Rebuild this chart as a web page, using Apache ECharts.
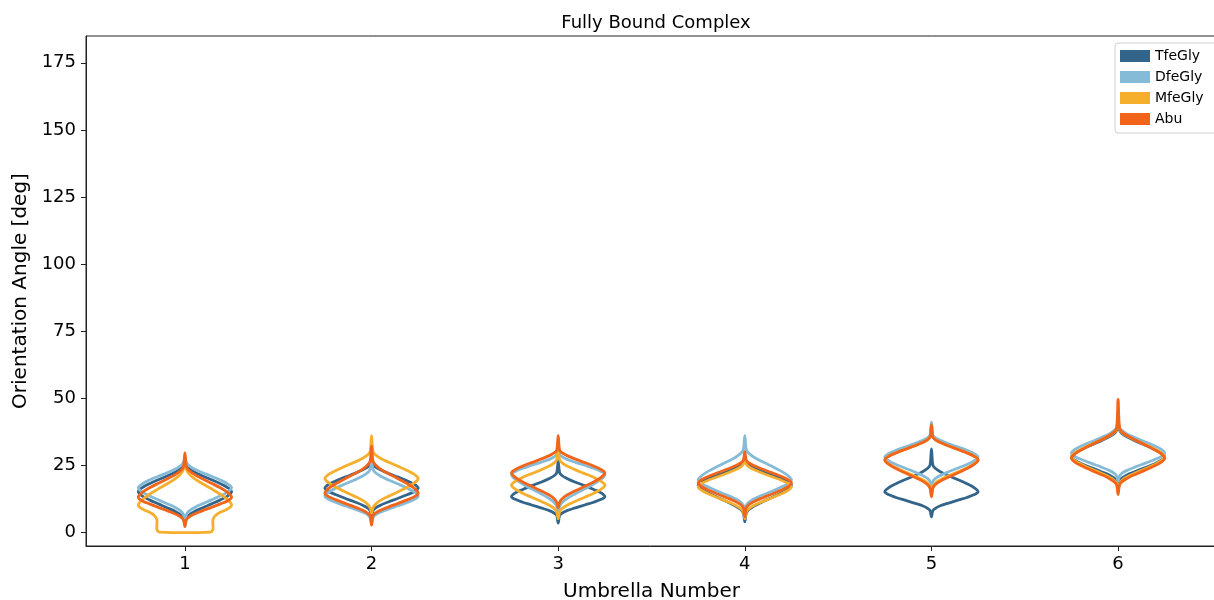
<!DOCTYPE html>
<html>
<head>
<meta charset="utf-8">
<script src="https://cdn.jsdelivr.net/npm/echarts@6/dist/echarts.min.js"></script>
<style>
  html, body { margin: 0; padding: 0; background: #fff; }
  #chart { width: 1214px; height: 600px; }
</style>
</head>
<body>
<div id="chart"></div>
<script>
// umbrella positions on the x axis
const umbrellas = [1, 2, 3, 4, 5, 6];
const compounds = ['TfeGly', 'DfeGly', 'MfeGly', 'Abu'];
const yTicks = [0, 25, 50, 75, 100, 125, 150, 175];

// violin outlines, one per umbrella: [angle (deg), relative density 0..1]
const tfeGly = [
  [[3,0],[5,.03],[6.2,.08],[7.5,.19],[9,.37],[10.5,.57],[12,.76],[13.5,.92],[15,1],[16.5,.92],[18,.76],[19.5,.57],[21,.37],[22.5,.19],[23.8,.08],[25,.03],[27,0]],
  [[5.5,0],[7.9,.03],[8.9,.08],[10,.19],[11.3,.37],[12.6,.57],[13.9,.76],[15.1,.92],[16.4,1],[17.8,.92],[19.1,.76],[20.5,.57],[21.8,.37],[23.2,.19],[24.3,.08],[25.4,.03],[28,0]],
  [[3.3,0],[6.2,.03],[7,.08],[8,.19],[9,.37],[10.1,.57],[11.1,.76],[12.2,.92],[13.2,1],[14.6,.92],[15.9,.76],[17.3,.57],[18.6,.37],[20,.19],[21.1,.08],[22.2,.03],[26.5,0]],
  [[3.8,0],[7,.03],[8.3,.08],[9.6,.19],[11.2,.37],[12.8,.57],[14.4,.76],[15.9,.92],[17.5,1],[18.8,.92],[20.1,.76],[21.3,.57],[22.6,.37],[23.9,.19],[25,.08],[26,.03],[27,0]],
  [[5.7,0],[8,.03],[8.8,.08],[9.8,.19],[10.8,.37],[11.9,.57],[12.9,.76],[14,.92],[15,1],[16.5,.92],[18,.76],[19.5,.57],[21,.37],[22.5,.19],[23.8,.08],[25,.03],[31,0]],
  [[18,0],[19,.03],[20.1,.08],[21.3,.19],[22.6,.37],[24,.57],[25.3,.76],[26.7,.92],[28,1],[29.5,.92],[31,.76],[32.5,.57],[34,.37],[35.5,.19],[36.8,.08],[38,.03],[40,0]]
];
const dfeGly = [
  [[4,0],[6.5,.03],[7.7,.08],[9,.19],[10.5,.37],[12,.57],[13.5,.76],[15,.92],[16.5,1],[17.9,.92],[19.4,.76],[20.8,.57],[22.2,.37],[23.6,.19],[24.9,.08],[26,.03],[28,0]],
  [[3.5,0],[5.4,.03],[6.4,.08],[7.4,.19],[8.6,.37],[9.8,.57],[11,.76],[12.2,.92],[13.4,1],[14.9,.92],[16.4,.76],[17.9,.57],[19.4,.37],[20.9,.19],[22.2,.08],[23.4,.03],[26,0]],
  [[7,0],[9.5,.03],[10.9,.08],[12.5,.19],[14.3,.37],[16.1,.57],[17.9,.76],[19.7,.92],[21.5,1],[22.6,.92],[23.8,.76],[24.9,.57],[26,.37],[27.1,.19],[28.1,.08],[29,.03],[32,0]],
  [[7.6,0],[9.9,.03],[11,.08],[12.3,.19],[13.7,.37],[15.1,.57],[16.6,.76],[18,.92],[19.4,1],[21.1,.92],[22.9,.76],[24.6,.57],[26.3,.37],[28,.19],[29.5,.08],[30.9,.03],[36,0]],
  [[17,0],[18.8,.03],[19.9,.08],[21.1,.19],[22.5,.37],[23.9,.57],[25.2,.76],[26.6,.92],[28,1],[29.2,.92],[30.5,.76],[31.7,.57],[32.9,.37],[34.2,.19],[35.2,.08],[36.2,.03],[41,0]],
  [[19,0],[20.9,.03],[21.9,.08],[23,.19],[24.3,.37],[25.6,.57],[26.9,.76],[28.1,.92],[29.4,1],[30.9,.92],[32.3,.76],[33.7,.57],[35.2,.37],[36.6,.19],[37.9,.08],[39,.03],[42,0]]
];
const mfeGly = [
  [[0,.55],[1,.6],[2.6,.6],[4.5,.6],[5.7,.63],[7,.72],[8.5,.9],[10,1],[12,.92],[14.1,.76],[16.1,.57],[18.1,.37],[20.1,.19],[21.9,.08],[23.5,.03],[28,0]],
  [[7,0],[9,.03],[10.3,.08],[11.8,.19],[13.4,.37],[15,.57],[16.7,.76],[18.4,.92],[20,1],[21.5,.92],[23,.76],[24.5,.57],[26,.37],[27.5,.19],[28.8,.08],[30,.03],[36,0]],
  [[5,0],[7.5,.03],[8.7,.08],[10,.19],[11.5,.37],[13,.57],[14.5,.76],[16,.92],[17.5,1],[18.9,.92],[20.4,.76],[21.8,.57],[23.2,.37],[24.6,.19],[25.9,.08],[27,.03],[31,0]],
  [[5,0],[7.5,.03],[8.6,.08],[9.9,.19],[11.3,.37],[12.7,.57],[14.1,.76],[15.5,.92],[16.9,1],[18.2,.92],[19.5,.76],[20.7,.57],[22,.37],[23.3,.19],[24.4,.08],[25.4,.03],[27,0]],
  [[14,0],[17,.03],[18.2,.08],[19.5,.19],[21,.37],[22.5,.57],[24,.76],[25.5,.92],[27,1],[28.3,.92],[29.6,.76],[30.8,.57],[32.1,.37],[33.4,.19],[34.5,.08],[35.5,.03],[39,0]],
  [[16,0],[18,.03],[19.2,.08],[20.5,.19],[22,.37],[23.5,.57],[25,.76],[26.5,.92],[28,1],[29.6,.92],[31.2,.76],[32.7,.57],[34.3,.37],[35.9,.19],[37.2,.08],[38.5,.03],[43,0]]
];
const abu = [
  [[2,0],[4.5,.03],[5.5,.08],[6.6,.19],[7.9,.37],[9.2,.57],[10.5,.76],[11.7,.92],[13,1],[14.7,.92],[16.5,.76],[18.2,.57],[19.9,.37],[21.6,.19],[23.1,.08],[24.5,.03],[29.5,0]],
  [[2.6,0],[6,.03],[7,.08],[8.1,.19],[9.4,.37],[10.7,.57],[12,.76],[13.2,.92],[14.5,1],[16.3,.92],[18.1,.76],[19.9,.57],[21.7,.37],[23.5,.19],[25.1,.08],[26.5,.03],[32,0]],
  [[9,0],[11,.03],[12.3,.08],[13.8,.19],[15.4,.37],[17.1,.57],[18.7,.76],[20.4,.92],[22,1],[23.3,.92],[24.6,.76],[25.9,.57],[27.2,.37],[28.5,.19],[29.6,.08],[30.6,.03],[36,0]],
  [[5.7,0],[9,.03],[10.1,.08],[11.3,.19],[12.7,.37],[14.1,.57],[15.5,.76],[16.9,.92],[18.3,1],[19.6,.92],[20.9,.76],[22.2,.57],[23.5,.37],[24.8,.19],[25.9,.08],[26.9,.03],[30,0]],
  [[13.2,0],[16.3,.03],[17.6,.08],[19,.19],[20.5,.37],[22.1,.57],[23.7,.76],[25.3,.92],[26.9,1],[28.2,.92],[29.5,.76],[30.8,.57],[32.1,.37],[33.4,.19],[34.5,.08],[35.5,.03],[40,0]],
  [[14,0],[17.5,.03],[18.7,.08],[20,.19],[21.5,.37],[23,.57],[24.5,.76],[26,.92],[27.5,1],[29.2,.92],[30.9,.76],[32.6,.57],[34.3,.37],[36,.19],[37.4,.08],[38.8,.03],[49.5,0]]
];

const profiles = [tfeGly, dfeGly, mfeGly, abu];
const colors = ['#33658a', '#86bbd8', '#f6ae2d', '#f26419'];

// outline of one violin: left side upwards, right side back down
function violinRenderer(violins, color) {
  return function (params, api) {
    const u = api.value(0);
    const prof = violins[params.dataIndex];
    const half = 0.25;
    const pts = [];
    prof.forEach(p => pts.push(api.coord([u - p[1] * half, p[0]])));
    for (let i = prof.length - 1; i >= 0; i--) {
      if (prof[i][1] > 0) pts.push(api.coord([u + prof[i][1] * half, prof[i][0]]));
    }
    return {
      type: 'polygon',
      shape: { points: pts, smooth: 0.35 },
      style: { fill: 'none', stroke: color, lineWidth: 2.8 }
    };
  };
}

const chart = echarts.init(document.getElementById('chart'));
chart.setOption({
  animation: false,
  textStyle: { fontFamily: 'DejaVu Sans' },
  title: {
    text: 'Fully Bound Complex',
    left: 651,
    top: 9,
    textAlign: 'center',
    textStyle: { fontSize: 18, fontWeight: 'normal', color: '#000', fontFamily: 'DejaVu Sans' }
  },
  legend: {
    orient: 'vertical',
    left: 1115,
    top: 43,
    padding: [6, 20, 7, 5],
    itemWidth: 30,
    itemHeight: 12,
    itemGap: 7,
    icon: 'rect',
    borderColor: '#d0d0d0',
    borderWidth: 1,
    borderRadius: 3,
    backgroundColor: '#fff',
    textStyle: { fontSize: 14, color: '#000', fontFamily: 'DejaVu Sans' },
    data: compounds
  },
  grid: {
    left: 86,
    top: 36,
    width: 1131,
    height: 510,
    show: true,
    borderColor: '#222',
    borderWidth: 1,
    containLabel: false,
    outerBoundsMode: 'none'
  },
  xAxis: {
    type: 'value',
    min: 0.47,
    max: 6.53,
    name: 'Umbrella Number',
    nameLocation: 'middle',
    nameGap: 36,
    nameTextStyle: { fontSize: 20, color: '#000', fontFamily: 'DejaVu Sans' },
    splitLine: { show: false },
    axisLine: { onZero: false, lineStyle: { color: '#222', width: 1 } },
    axisTick: { customValues: umbrellas, length: 5, lineStyle: { color: '#222' } },
    axisLabel: { customValues: umbrellas, margin: 9, fontSize: 18, color: '#000', fontFamily: 'DejaVu Sans' }
  },
  yAxis: {
    type: 'value',
    min: -5.2,
    max: 185,
    name: 'Orientation Angle [deg]',
    nameLocation: 'middle',
    nameGap: 54,
    nameTextStyle: { fontSize: 20, color: '#000', fontFamily: 'DejaVu Sans' },
    splitLine: { show: false },
    axisLine: { show: true, onZero: false, lineStyle: { color: '#222', width: 1 } },
    axisTick: { show: true, customValues: yTicks, length: 5, lineStyle: { color: '#222' } },
    axisLabel: { customValues: yTicks, margin: 10, fontSize: 18, color: '#000', fontFamily: 'DejaVu Sans' }
  },
  series: compounds.map((name, k) => ({
    name: name,
    type: 'custom',
    itemStyle: { color: colors[k] },
    renderItem: violinRenderer(profiles[k], colors[k]),
    encode: { x: 0, y: 1 },
    data: umbrellas.map((u, i) => [u, profiles[k][i][8][0]]),
    z: 2 + k
  }))
});
</script>
</body>
</html>
